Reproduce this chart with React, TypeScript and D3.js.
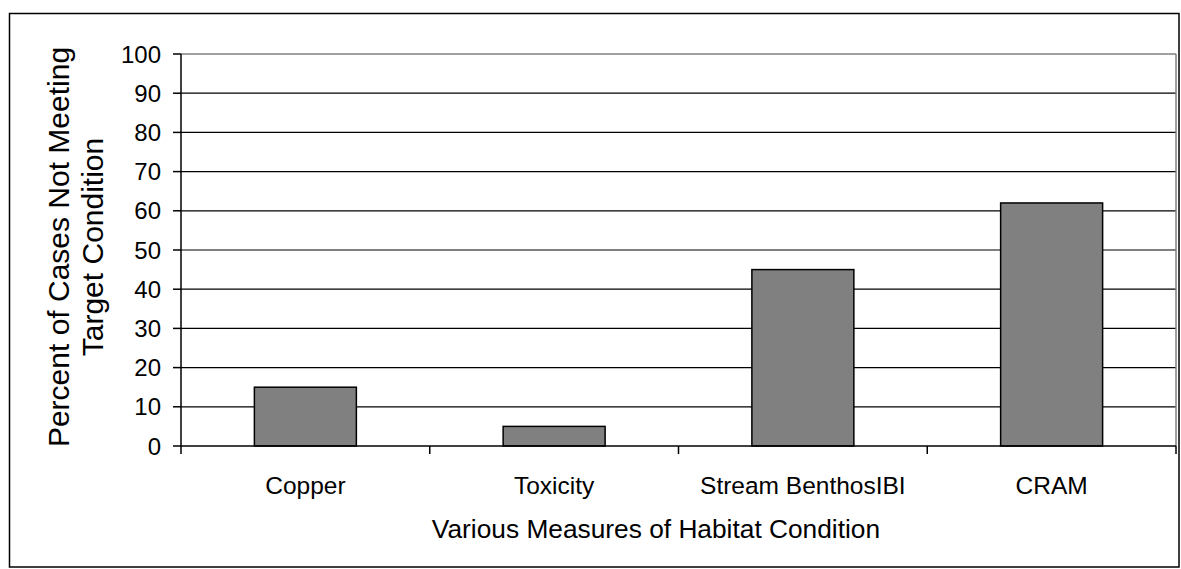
import React from "react";
import * as d3 from "d3";

const categories = ["Copper", "Toxicity", "Stream BenthosIBI", "CRAM"];
const values = [15, 5, 45, 62];
const yTicks = [0, 10, 20, 30, 40, 50, 60, 70, 80, 90, 100];
const yTitleLines = ["Percent of Cases Not Meeting", "Target Condition"];
const xTitle = "Various Measures of Habitat Condition";

const W = 1181;
const H = 569;
const plot = { left: 181, right: 1176, top: 54, bottom: 446 };
const FONT = "'Liberation Sans', Arial, sans-serif";

export default function App() {
  const x = d3.scaleBand<string>().domain(categories).range([plot.left, plot.right]).padding(0);
  const y = d3.scaleLinear().domain([0, 100]).range([plot.bottom, plot.top]);
  const bw = x.bandwidth() * 0.41;
  const bounds = [plot.left, ...categories.map((c) => (x(c) as number) + x.bandwidth())];

  return (
    <svg
      width={W}
      height={H}
      style={{ position: "absolute", left: 0, top: 0, background: "#fff" }}
      fontFamily={FONT}
    >
      <rect x={9.5} y={13.5} width={1169.5} height={553.5} fill="#fff" stroke="#000" strokeWidth={1.5} />
      {/* gridlines */}
      {yTicks.filter((t) => t > 0 && t < 100).map((t) => (
        <line key={t} x1={plot.left} x2={plot.right} y1={y(t)} y2={y(t)} stroke="#000" strokeWidth={1.2} />
      ))}
      {/* plot border top/right gray */}
      <line x1={plot.left} x2={plot.right} y1={y(100)} y2={y(100)} stroke="#808080" strokeWidth={1.5} />
      <line x1={plot.right} x2={plot.right} y1={y(100)} y2={y(0)} stroke="#808080" strokeWidth={1.5} />
      {/* bars */}
      {categories.map((c, i) => {
        const cx = (x(c) as number) + x.bandwidth() / 2;
        return (
          <rect
            key={c}
            x={cx - bw / 2}
            y={y(values[i])}
            width={bw}
            height={y(0) - y(values[i])}
            fill="#808080"
            stroke="#000"
            strokeWidth={1.5}
          />
        );
      })}
      {/* axes */}
      <line x1={plot.left} x2={plot.left} y1={y(100)} y2={y(0)} stroke="#000" strokeWidth={1.5} />
      <line x1={plot.left} x2={plot.right} y1={y(0)} y2={y(0)} stroke="#000" strokeWidth={1.5} />
      {yTicks.map((t) => (
        <g key={t}>
          <line x1={plot.left - 8} x2={plot.left} y1={y(t)} y2={y(t)} stroke="#000" strokeWidth={1.5} />
          <text x={161} y={y(t)} dy="0.36em" textAnchor="end" fontSize={24} fill="#000">
            {t}
          </text>
        </g>
      ))}
      {bounds.map((b, i) => (
        <line key={i} x1={b} x2={b} y1={y(0)} y2={y(0) + 8} stroke="#000" strokeWidth={1.5} />
      ))}
      {categories.map((c) => (
        <text
          key={c}
          x={(x(c) as number) + x.bandwidth() / 2}
          y={494}
          textAnchor="middle"
          fontSize={24.5}
          fill="#000"
        >
          {c}
        </text>
      ))}
      <text x={656} y={538} textAnchor="middle" fontSize={26.3} fill="#000">
        {xTitle}
      </text>
      <g transform="translate(0,247) rotate(-90)">
        {yTitleLines.map((l, i) => (
          <text key={i} x={0} y={69 + i * 34} textAnchor="middle" fontSize={30} fill="#000">
            {l}
          </text>
        ))}
      </g>
    </svg>
  );
}
